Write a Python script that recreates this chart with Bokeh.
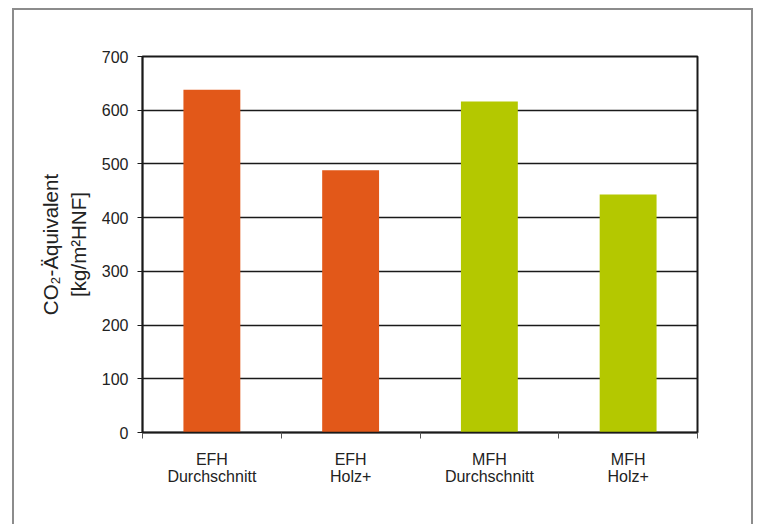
from bokeh.plotting import figure
from bokeh.models import FixedTicker, Range1d
from bokeh.embed import file_html
from bokeh.resources import INLINE

categories = ["EFH\nDurchschnitt", "EFH\nHolz+", "MFH\nDurchschnitt", "MFH\nHolz+"]
values = [638, 488, 616, 443]
colors = ["#E25819", "#E25819", "#B4C800", "#B4C800"]
y_ticks = [0, 100, 200, 300, 400, 500, 600, 700]
y_label = "CO\u2082-\u00c4quivalent\n[kg/m\u00b2HNF]"

n = len(categories)
centers = [i + 0.5 for i in range(n)]
bounds = [float(i) for i in range(n + 1)]

p = figure(x_range=Range1d(0, n), y_range=Range1d(0, y_ticks[-1]),
           frame_width=555, frame_height=376,
           min_border_left=128, min_border_right=54, min_border_top=46, min_border_bottom=92,
           output_backend="svg", toolbar_location=None)
p.styles = {"margin-left": "12px", "margin-top": "8px",
            "border-left": "2px solid #8c8c8c",
            "border-right": "2px solid #8c8c8c", "border-top": "2px solid #8c8c8c"}

p.vbar(x=centers, top=values, width=0.41, color=colors, line_color=None)

p.outline_line_color = "#1a1a1a"
p.outline_line_width = 2
p.xgrid.visible = False
p.ygrid.ticker = FixedTicker(ticks=y_ticks)
p.ygrid.grid_line_color = "#1a1a1a"
p.ygrid.grid_line_width = 1.5

p.yaxis.ticker = FixedTicker(ticks=y_ticks)
p.yaxis.minor_tick_line_color = None
p.yaxis.major_tick_in = 0
p.yaxis.major_tick_out = 5
p.yaxis.major_tick_line_color = "#1a1a1a"
p.yaxis.axis_line_color = "#1a1a1a"
p.yaxis.axis_line_width = 1.5
p.yaxis.major_label_standoff = 9
p.yaxis.major_label_text_font = "Liberation Sans"
p.yaxis.major_label_text_font_size = "16px"
p.yaxis.major_label_text_color = "#222222"
p.yaxis.axis_label = y_label
p.yaxis.axis_label_text_font = "Liberation Sans"
p.yaxis.axis_label_text_font_size = "20.5px"
p.yaxis.axis_label_text_font_style = "normal"
p.yaxis.axis_label_text_color = "#222222"
p.yaxis.axis_label_standoff = 9

p.xaxis.ticker = FixedTicker(ticks=centers, minor_ticks=bounds)
p.xaxis.major_label_overrides = {c: lab for c, lab in zip(centers, categories)}
p.xaxis.major_tick_in = 0
p.xaxis.major_tick_out = 0
p.xaxis.minor_tick_in = 0
p.xaxis.minor_tick_out = 6
p.xaxis.minor_tick_line_color = "#555555"
p.xaxis.axis_line_color = "#1a1a1a"
p.xaxis.axis_line_width = 1.5
p.xaxis.major_label_standoff = 12
p.xaxis.major_label_text_font = "Liberation Sans"
p.xaxis.major_label_text_font_size = "16px"
p.xaxis.major_label_text_line_height = 1.0
p.xaxis.major_label_text_color = "#222222"

open("out.html", "w").write(file_html(p, INLINE))
